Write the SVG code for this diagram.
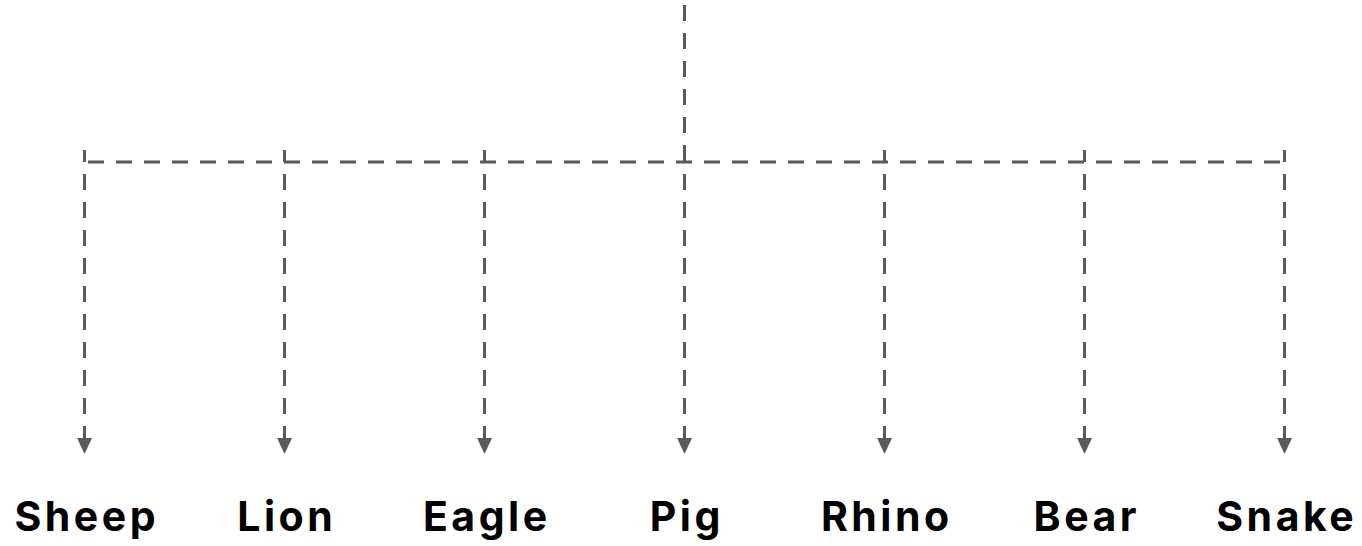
<svg xmlns="http://www.w3.org/2000/svg" width="1362" height="546" viewBox="0 0 1362 546">
<style>
.c{stroke:#595959;stroke-width:3;fill:none;stroke-dasharray:16 12}
.b{stroke-dashoffset:4}
.t{font-family:Inter,"Liberation Sans",sans-serif;font-weight:700;font-size:41px;letter-spacing:3.5px;fill:#000;text-anchor:middle}
</style>
<defs>
<marker id="ar" viewBox="0 0 16 15" refX="0" refY="7.5" markerWidth="16" markerHeight="15" markerUnits="userSpaceOnUse" orient="auto">
<path d="M0,0 L16,7.5 L0,15 Z" fill="#595959"/>
</marker>
</defs>
<rect width="1362" height="546" fill="#fff"/>
<g id="connectors">
<line class="c" x1="684.5" y1="5" x2="684.5" y2="162"/>
<line class="c" x1="88" y1="162" x2="1285" y2="162"/>
<line class="c b" x1="84.5" y1="150" x2="84.5" y2="438" marker-end="url(#ar)"/>
<line class="c b" x1="284.5" y1="150" x2="284.5" y2="438" marker-end="url(#ar)"/>
<line class="c b" x1="484.5" y1="150" x2="484.5" y2="438" marker-end="url(#ar)"/>
<line class="c b" x1="684.5" y1="150" x2="684.5" y2="438" marker-end="url(#ar)"/>
<line class="c b" x1="884.5" y1="150" x2="884.5" y2="438" marker-end="url(#ar)"/>
<line class="c b" x1="1084.5" y1="150" x2="1084.5" y2="438" marker-end="url(#ar)"/>
<line class="c b" x1="1284.5" y1="150" x2="1284.5" y2="438" marker-end="url(#ar)"/>
</g>
<g id="sheep"><text class="t" x="86.75" y="531">Sheep</text></g>
<g id="lion"><text class="t" x="286.75" y="531">Lion</text></g>
<g id="eagle"><text class="t" x="486.75" y="531">Eagle</text></g>
<g id="pig"><text class="t" x="686.75" y="531">Pig</text></g>
<g id="rhino"><text class="t" x="886.75" y="531">Rhino</text></g>
<g id="bear"><text class="t" x="1086.75" y="531">Bear</text></g>
<g id="snake"><text class="t" x="1286.75" y="531">Snake</text></g>
</svg>
